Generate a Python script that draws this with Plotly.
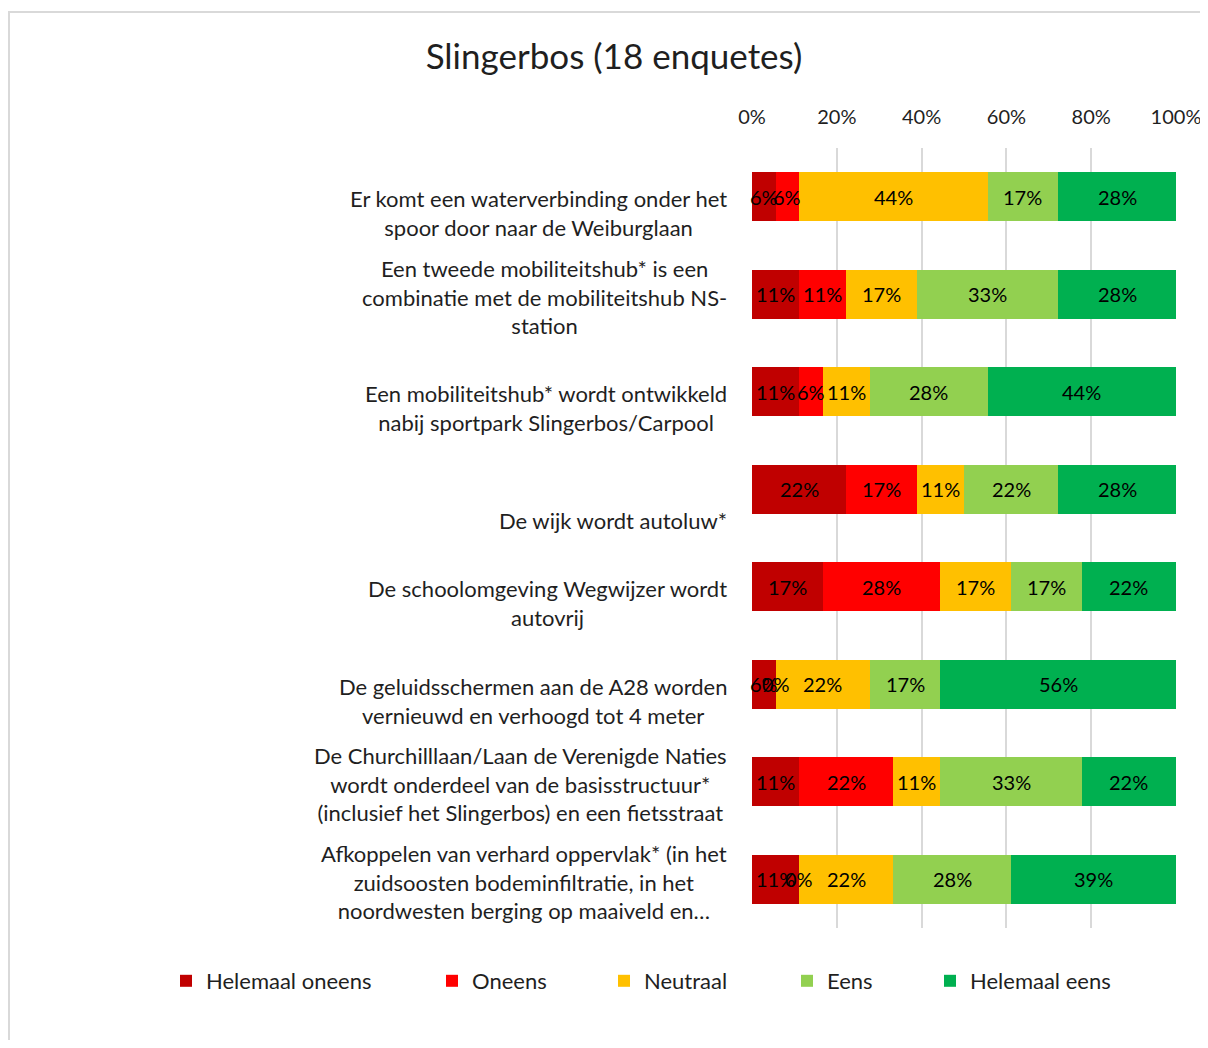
import plotly.graph_objects as go

# ---------------- data ----------------
category_lines = [
    ["Er komt een waterverbinding onder het", "spoor door naar de Weiburglaan"],
    ["Een tweede mobiliteitshub* is een", "combinatie met de mobiliteitshub NS-", "station"],
    ["Een mobiliteitshub* wordt ontwikkeld", "nabij sportpark Slingerbos/Carpool"],
    ["De wijk wordt autoluw*"],
    ["De schoolomgeving Wegwijzer wordt", "autovrij"],
    ["De geluidsschermen aan de A28 worden", "vernieuwd en verhoogd tot 4 meter"],
    ["De Churchilllaan/Laan de Verenigde Naties", "wordt onderdeel van de basisstructuur*",
     "(inclusief het Slingerbos) en een fietsstraat"],
    ["Afkoppelen van verhard oppervlak* (in het", "zuidsoosten bodeminfiltratie, in het",
     "noordwesten berging op maaiveld en…"],
]
categories = ["<br>".join(l) for l in category_lines]

series_names = ["Helemaal oneens", "Oneens", "Neutraal", "Eens", "Helemaal eens"]
helemaal_oneens = [5.56, 11.11, 11.11, 22.22, 16.67, 5.56, 11.11, 11.11]
oneens = [5.56, 11.11, 5.56, 16.67, 27.78, 0.0, 22.22, 0.0]
neutraal = [44.44, 16.67, 11.11, 11.11, 16.67, 22.22, 11.11, 22.22]
eens = [16.67, 33.33, 27.78, 22.22, 16.67, 16.67, 33.33, 27.78]
helemaal_eens = [27.78, 27.78, 44.44, 27.78, 22.22, 55.56, 22.22, 38.89]

x_ticks = [0, 20, 40, 60, 80, 100]
title_text = "Slingerbos (18 enquetes)"

# ---------------- style ----------------
colors = ["#C00000", "#FF0000", "#FFC000", "#92D050", "#00B050"]
FONT = "Lato"
TXT = "#1f1f1f"
OFF = 8                      # page body margin
W, H = 1208 - 2 * OFF, 1048 - 2 * OFF
L, R, T, B = 752 - OFF, (W + OFF) - 1176, 148 - OFF, (H + OFF) - 928
legend_sym_centers = [186, 452, 624, 807, 950]

series = [helemaal_oneens, oneens, neutraal, eens, helemaal_eens]

fig = go.Figure()
legend_ids = ["legend", "legend2", "legend3", "legend4", "legend5"]
for i, (name, vals) in enumerate(zip(series_names, series)):
    fig.add_trace(go.Bar(
        y=categories, x=vals, name=name, orientation="h",
        marker=dict(color=colors[i], line=dict(width=0)),
        legend=legend_ids[i], hoverinfo="x+name",
    ))

# value labels centred in each segment (through data axes)
annotations = []
for j, cat in enumerate(categories):
    start = 0.0
    for i, vals in enumerate(series):
        v = vals[j]
        annotations.append(dict(
            x=start + v / 2, y=cat, xref="x", yref="y",
            text=f"{v:.0f}%", showarrow=False,
            font=dict(family=FONT, size=20, color="#000000"),
            xanchor="center", yanchor="middle",
        ))
        start += v

# category labels (bottom aligned within a 3-line slot, like the source)
FS = 22
LS = FS * 1.3
for j, lines in enumerate(category_lines):
    n = len(lines)
    shift = -(31 - (n - 1) * LS / 2)
    annotations.append(dict(
        x=0, y=categories[j], xref="paper", yref="y",
        xshift=-23, yshift=shift,
        text="<br>".join(lines), showarrow=False, align="center",
        xanchor="right", yanchor="middle",
        font=dict(family=FONT, size=FS, color=TXT),
    ))

layout_legends = {}
for i, lid in enumerate(legend_ids):
    layout_legends[lid] = dict(
        x=(legend_sym_centers[i] - OFF - 20) / W, xref="container", xanchor="left",
        y=1 - (981 - OFF) / H, yref="container", yanchor="middle",
        orientation="h", bgcolor="rgba(0,0,0,0)", borderwidth=0,
        font=dict(family=FONT, size=22, color=TXT),
        itemclick=False, itemdoubleclick=False,
    )

PW, PH = W - L - R, H - T - B
fig.update_layout(
    width=W, height=H, autosize=False,
    margin=dict(l=L, r=R, t=T, b=B, pad=0, autoexpand=False),
    paper_bgcolor="white", plot_bgcolor="white",
    barmode="stack", bargap=0.5,
    showlegend=True,
    title=dict(text=title_text, x=(614 - OFF) / W, xanchor="center",
               y=1 - (57 - OFF) / H, yanchor="middle", yref="container",
               font=dict(family=FONT, size=35, color=TXT)),
    xaxis=dict(range=[0, 100], side="top", tickvals=x_ticks,
               ticktext=[f"{t}%" for t in x_ticks],
               showgrid=True, gridcolor="#d9d9d9", gridwidth=2,
               zeroline=False, showline=False, ticks="", ticklen=0,
               ticklabelstandoff=19, ticklabeloverflow="allow",
               automargin=False,
               tickfont=dict(family=FONT, size=20, color=TXT),
               fixedrange=True),
    yaxis=dict(autorange="reversed", showticklabels=False, showgrid=False,
               zeroline=False, showline=False, ticks="", fixedrange=True,
               automargin=False),
    annotations=annotations,
    shapes=[dict(type="rect", xref="paper", yref="paper",
                 x0=(9 - OFF - L) / PW, x1=(W + 20 - L) / PW,
                 y0=-(B + 20) / PH, y1=(H - B - (12 - OFF)) / PH,
                 line=dict(color="#d9d9d9", width=2), fillcolor="rgba(0,0,0,0)",
                 layer="below")],
    **layout_legends,
)

fig.write_html("out.html")
